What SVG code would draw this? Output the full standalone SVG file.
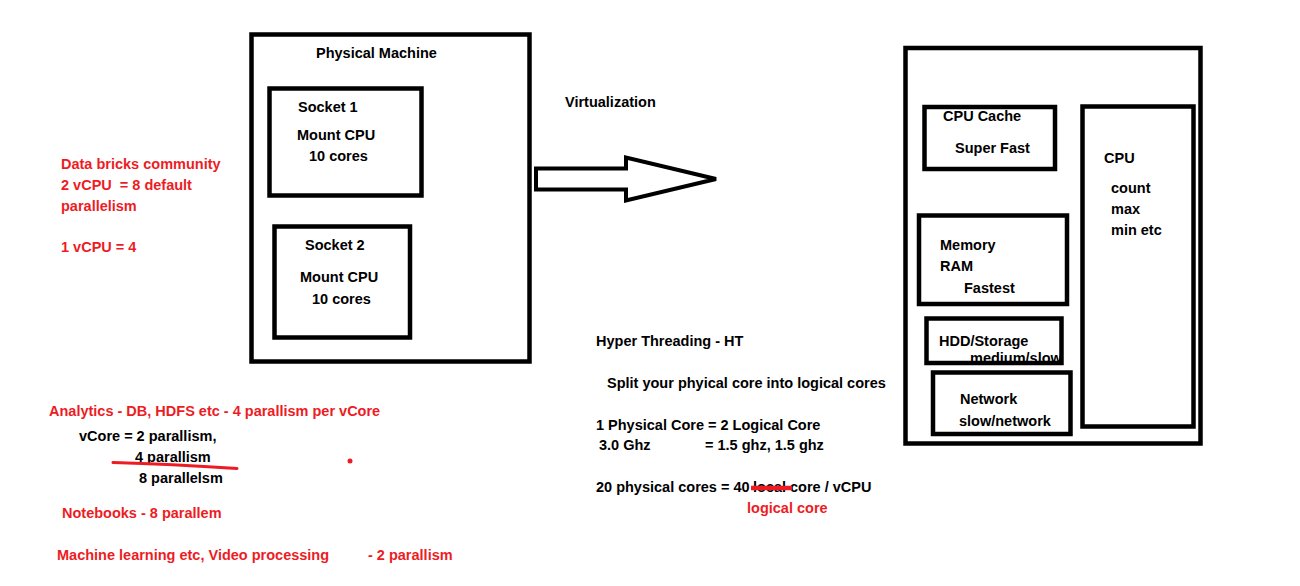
<svg xmlns="http://www.w3.org/2000/svg" width="1300" height="586" viewBox="0 0 1300 586">
<style>
text{font-family:"Liberation Sans",Arial,sans-serif;font-weight:bold;font-size:14.5px;fill:#000}
.r{fill:#ED1C24}
.box{fill:none;stroke:#000;stroke-width:4.5}
</style>
<rect width="1300" height="586" fill="#fff"/>
<g id="physical-machine">
<rect class="box" x="251.5" y="34.5" width="278" height="327"/>
<text x="316" y="58">Physical Machine</text>
</g>
<g id="socket1">
<rect class="box" x="269.5" y="88.5" width="152" height="107"/>
<text x="298" y="112">Socket 1</text>
<text x="297" y="140">Mount CPU</text>
<text x="309" y="161">10 cores</text>
</g>
<g id="socket2">
<rect class="box" x="274.5" y="226.5" width="135.5" height="111"/>
<text x="305" y="250">Socket 2</text>
<text x="300" y="282">Mount CPU</text>
<text x="312" y="304">10 cores</text>
</g>
<g id="connectors">
<polygon points="536,168.5 626,168.5 626,157.5 716,179 626,200.5 626,189.5 536,189.5" fill="#fff" stroke="#000" stroke-width="4" stroke-linejoin="miter"/>
</g>
<text x="565" y="107">Virtualization</text>
<g id="vm">
<rect class="box" x="905.5" y="48" width="295" height="395.5"/>
</g>
<g id="cpu-cache">
<rect class="box" x="924.5" y="107" width="130.5" height="62"/>
<text x="943" y="121">CPU Cache</text>
<text x="955" y="153">Super Fast</text>
</g>
<g id="cpu">
<rect class="box" x="1082.5" y="106.5" width="111" height="320"/>
<text x="1104" y="163">CPU</text>
<text x="1111" y="193">count</text>
<text x="1111" y="214">max</text>
<text x="1111" y="235">min etc</text>
</g>
<g id="memory">
<rect class="box" x="919" y="215.5" width="148" height="88.5"/>
<text x="940" y="250">Memory</text>
<text x="940" y="271">RAM</text>
<text x="964" y="293">Fastest</text>
</g>
<g id="hdd">
<text x="970" y="363">medium/slow</text>
<rect class="box" x="926.5" y="318.5" width="135" height="44.5" fill="none"/>
<text x="939" y="346">HDD/Storage</text>
</g>
<g id="network">
<rect class="box" x="933" y="372.5" width="137.5" height="61.5"/>
<text x="960" y="404">Network</text>
<text x="959" y="426">slow/network</text>
</g>
<g id="notes-left">
<text class="r" x="61" y="169">Data bricks community</text>
<text class="r" x="61" y="190" xml:space="preserve">2 vCPU  = 8 default</text>
<text class="r" x="61" y="211">parallelism</text>
<text class="r" x="61" y="252">1 vCPU = 4</text>
<text class="r" x="49" y="416">Analytics - DB, HDFS etc - 4 parallism per vCore</text>
<text x="79" y="441">vCore = 2 parallism,</text>
<text x="135" y="462">4 parallism</text>
<path d="M113,462.5 Q170,464 237,468.5" fill="none" stroke="#ED1C24" stroke-width="3" stroke-linecap="round"/>
<text x="139" y="483">8 parallelsm</text>
<circle cx="350" cy="461" r="2.5" fill="#ED1C24"/>
<text class="r" x="62" y="518">Notebooks - 8 parallem</text>
<text class="r" x="57" y="560">Machine learning etc, Video processing</text>
<text class="r" x="368" y="560">- 2 parallism</text>
</g>
<g id="notes-ht">
<text x="596" y="346">Hyper Threading - HT</text>
<text x="607" y="388">Split your phyical core into logical cores</text>
<text x="596" y="430">1 Physical Core = 2 Logical Core</text>
<text x="599" y="450">3.0 Ghz</text>
<text x="705" y="450">= 1.5 ghz, 1.5 ghz</text>
<text x="596" y="492">20 physical cores = 40</text>
<text x="753" y="492">local</text>
<text x="790" y="492">core / vCPU</text>
<path d="M751,488 L792,488" stroke="#ED1C24" stroke-width="4.5"/>
<text class="r" x="747" y="513">logical core</text>
</g>
</svg>
